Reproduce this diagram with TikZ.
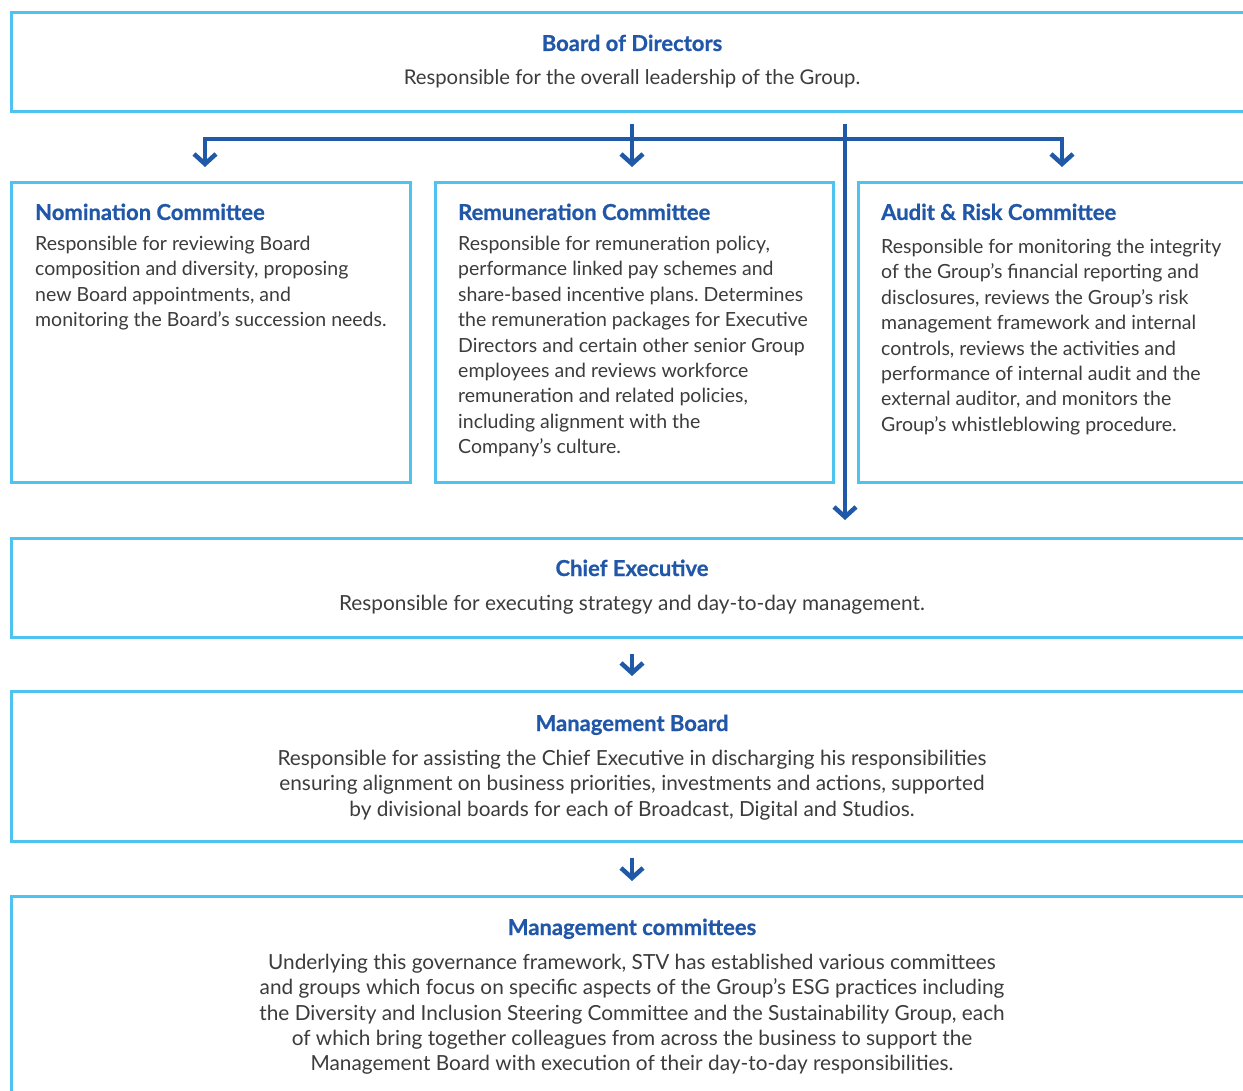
\documentclass[tikz,border=0pt]{standalone}
\usepackage{fontspec}
\setmainfont{Lato}
\newfontfamily\ttlfont[BoldFeatures={FakeBold=0.7}]{Lato}
\usetikzlibrary{arrows.meta}
\frenchspacing
\definecolor{boxblue}{RGB}{78,195,240}
\definecolor{arrblue}{RGB}{32,89,168}
\definecolor{titleblue}{RGB}{33,87,168}
\definecolor{bodygray}{RGB}{60,60,60}
\tikzset{
  panel/.style={draw=boxblue, line width=3pt, fill=white, rectangle, inner sep=0pt, anchor=north west},
  ttl/.style={font=\ttlfont\bfseries\fontsize{22}{26}\selectfont, text=titleblue, inner sep=0pt},
  body/.style={font=\fontsize{19.5}{25.4}\selectfont, text=bodygray, inner sep=0pt},
  bodyL/.style={font=\fontsize{20.8}{25.3}\selectfont, text=bodygray, inner sep=0pt},
  flow/.style={draw=arrblue, line width=4.5pt, -{Straight Barb[length=10pt,width=22pt]}},
  flowboth/.style={draw=arrblue, line width=4.5pt, {Straight Barb[length=10pt,width=22pt]}-{Straight Barb[length=10pt,width=22pt]}}
}
\begin{document}
\begin{tikzpicture}[x=1pt,y=-1pt]
\useasboundingbox (0,0) rectangle (1243,1091);
\clip (0,0) rectangle (1243,1091);
% boxes
\node[panel, minimum width=1260pt, minimum height=99pt] (bod) at (10,11) {};
\node[panel, minimum width=399pt, minimum height=300pt] (nom) at (10,181) {};
\node[panel, minimum width=398pt, minimum height=300pt] (rem) at (434,181) {};
\node[panel, minimum width=420pt, minimum height=300pt] (aud) at (857,181) {};
\node[panel, minimum width=1260pt, minimum height=99pt] (ce) at (10,537) {};
\node[panel, minimum width=1260pt, minimum height=150pt] (mb) at (10,690) {};
\node[panel, minimum width=1260pt, minimum height=220pt] (mc) at (10,895) {};
% texts
\node[ttl, anchor=base] (bodT) at (632,51) {Board of Directors};
\node[body, font=\fontsize{20.3}{25.4}\selectfont, anchor=base] (bodB) at (632,85) {Responsible for the overall leadership of the Group.};
\node[ttl, anchor=base west] (nomT) at (35,220) {Nomination Committee};
\node[body, anchor=north west, align=left] (nomB) at (35,236) {Responsible for reviewing Board\\composition and diversity, proposing\\new Board appointments, and\\monitoring the Board’s succession needs.};
\node[ttl, anchor=base west] (remT) at (458,220) {Remuneration Committee};
\node[body, anchor=north west, align=left] (remB) at (458,236) {Responsible for remuneration policy,\\performance linked pay schemes and\\share-based incentive plans. Determines\\the remuneration packages for Executive\\Directors and certain other senior Group\\employees and reviews workforce\\remuneration and related policies,\\including alignment with the\\Company’s culture.};
\node[ttl, anchor=base west] (audT) at (881,220) {Audit \& Risk Committee};
\node[body, anchor=north west, align=left] (audB) at (881,239) {Responsible for monitoring the integrity\\of the Group’s financial reporting and\\disclosures, reviews the Group’s risk\\management framework and internal\\controls, reviews the activities and\\performance of internal audit and the\\external auditor, and monitors the\\Group’s whistleblowing procedure.};
\node[ttl, anchor=base] (ceT) at (632,576) {Chief Executive};
\node[bodyL, anchor=base] (ceB) at (632,610) {Responsible for executing strategy and day-to-day management.};
\node[ttl, anchor=base] (mbT) at (632,731) {Management Board};
\node[bodyL, anchor=north, align=center] (mbB) at (632,750) {Responsible for assisting the Chief Executive in discharging his responsibilities\\ensuring alignment on business priorities, investments and actions, supported\\by divisional boards for each of Broadcast, Digital and Studios.};
\node[ttl, anchor=base] (mcT) at (632,935) {Management committees};
\node[bodyL, anchor=north, align=center] (mcB) at (632,954) {Underlying this governance framework, STV has established various committees\\and groups which focus on specific aspects of the Group’s ESG practices including\\the Diversity and Inclusion Steering Committee and the Sustainability Group, each\\of which bring together colleagues from across the business to support the\\Management Board with execution of their day-to-day responsibilities.};
% connectors
\coordinate (srcA) at (632,124);
\coordinate (srcB) at (845,124);
\coordinate (nomIn) at (205,167);
\coordinate (audIn) at (1062,167);
\coordinate (bar) at (1062,139);
\coordinate (remIn) at (632,167);
\coordinate (ceIn) at (845,520);
\draw[flowboth] (nomIn) |- (bar) -- (audIn);
\draw[flow] (srcA) -- (remIn);
\draw[flow] (srcB) -- (ceIn);
\draw[flow] ([yshift=-15pt]ce.south -| srcA) -- ([yshift=14pt]mb.north -| srcA);
\draw[flow] ([yshift=-15pt]mb.south -| srcA) -- ([yshift=14pt]mc.north -| srcA);
\end{tikzpicture}
\end{document}
